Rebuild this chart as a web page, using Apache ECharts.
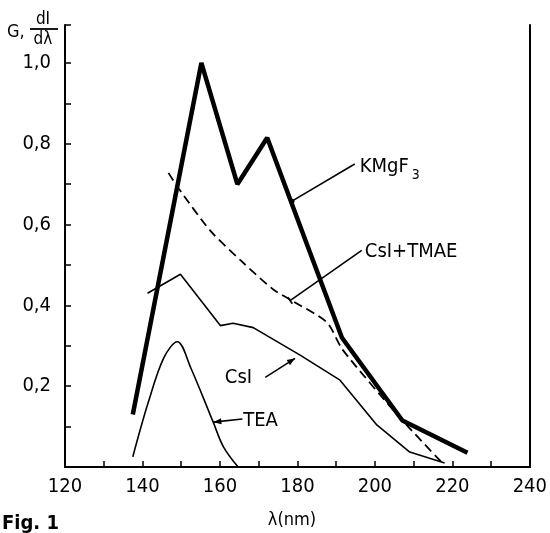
<!DOCTYPE html>
<html>
<head>
<meta charset="utf-8">
<script src="https://cdn.jsdelivr.net/npm/echarts@6/dist/echarts.min.js"></script>
<style>
  html, body { margin: 0; padding: 0; background: #fff; }
  #chart { width: 550px; height: 533px; }
</style>
</head>
<body>
<div id="chart"></div>
<script>
// curves: [lambda (nm), G or dI/dlambda]
const kmgf3 = [[137.5, 0.13], [155.2, 1.0], [164.5, 0.70], [172.2, 0.815], [182.5, 0.55], [191.5, 0.32], [207.1, 0.115], [223.9, 0.035]]
const csi = [[141.3, 0.43], [149.8, 0.477], [160.1, 0.35], [163.4, 0.356], [168.6, 0.345], [180.7, 0.277], [191.0, 0.215], [200.5, 0.104], [209.0, 0.037], [218.0, 0.01]]
const csiTmae = [[146.7, 0.728], [149.3, 0.69], [157.5, 0.585], [165.5, 0.51], [173.7, 0.44], [178.9, 0.41], [187.6, 0.358], [191.7, 0.29], [206.4, 0.123], [217.4, 0.01]]
const tea = [[137.5, 0.025], [141.5, 0.16], [145.5, 0.27], [149.0, 0.31], [152.4, 0.247], [158.3, 0.11], [160.9, 0.05], [164.7, 0.0]]

const xTickLabels = [120, 140, 160, 180, 200, 220, 240]
const yTickLabels = ['0,2', '0,4', '0,6', '0,8', '1,0']

// annotation leaders: from point on curve -> to text
const notes = [
  { text: 'KMgF', sub: '3', from: [178.6, 0.658], to: [194.8, 0.75], at: [196.1, 0.743], align: 'left', head: 'circle' },
  { text: 'CsI+TMAE', from: [178.1, 0.412], to: [196.6, 0.536], at: [197.4, 0.533], align: 'left', head: 'tick' },
  { text: 'CsI', from: [179.4, 0.269], to: [171.7, 0.222], at: [168.3, 0.22], align: 'right', head: 'arrow' },
  { text: 'TEA', from: [158.3, 0.111], to: [165.8, 0.119], at: [166.0, 0.114], align: 'left', head: 'arrow' },
]

const font = '"DejaVu Sans Condensed", "DejaVu Sans", sans-serif'
const myChart = echarts.init(document.getElementById('chart'))

const lineSeries = (name, data, style) => ({
  name,
  type: 'line',
  data,
  symbol: 'none',
  silent: true,
  smooth: style.smooth || false,
  lineStyle: { color: '#000', width: style.width, type: style.type || 'solid' },
})

myChart.setOption({
  animation: false,
  grid: { left: 65, right: 19, top: 25, bottom: 66 },
  xAxis: [
    {
      type: 'value',
      min: 120,
      max: 240,
      interval: 10,
      axisLine: { lineStyle: { color: '#000', width: 2 } },
      axisTick: { inside: true, length: 6, lineStyle: { color: '#000', width: 1.5 } },
      splitLine: { show: false },
      axisLabel: {
        margin: 10,
        color: '#000',
        fontSize: 20,
        fontFamily: font,
        formatter: (v) => (xTickLabels.includes(v) ? String(v) : ''),
      },
    },
    {
      type: 'value',
      position: 'top',
      min: 120,
      max: 240,
      axisLine: { show: true, lineStyle: { color: '#000', width: 2, type: [22, 5] } },
      axisTick: { show: false },
      axisLabel: { show: false },
      splitLine: { show: false },
    },
  ],
  yAxis: [
    {
      type: 'value',
      min: 0,
      max: 1.094,
      interval: 0.1,
      axisLine: { show: true, lineStyle: { color: '#000', width: 2 } },
      axisTick: { inside: true, length: 6, lineStyle: { color: '#000', width: 1.5 } },
      splitLine: { show: false },
      axisLabel: {
        margin: 14,
        color: '#000',
        fontSize: 20,
        fontFamily: font,
        formatter: (v) => {
          const s = v.toFixed(1).replace('.', ',')
          return yTickLabels.includes(s) ? s : ''
        },
      },
    },
    {
      type: 'value',
      position: 'right',
      min: 0,
      max: 1.094,
      axisLine: { show: true, lineStyle: { color: '#000', width: 2 } },
      axisTick: { show: false },
      axisLabel: { show: false },
      splitLine: { show: false },
    },
  ],
  series: [
    lineSeries('KMgF3', kmgf3, { width: 4.5 }),
    lineSeries('CsI', csi, { width: 1.6 }),
    lineSeries('CsI+TMAE', csiTmae, { width: 1.8, type: [9, 5], smooth: 0.25 }),
    lineSeries('TEA', tea, { width: 1.6, smooth: 0.35 }),
  ],
})

// text, leaders and titles placed through the chart's own scales
const px = (p) => myChart.convertToPixel({ gridIndex: 0 }, p)
const graphics = []
notes.forEach((n) => {
  const a = px(n.from)
  const b = px(n.to)
  const t = px(n.at)
  graphics.push({ type: 'line', shape: { x1: a[0], y1: a[1], x2: b[0], y2: b[1] }, style: { stroke: '#000', lineWidth: 1.6 } })
  const ang = Math.atan2(b[1] - a[1], b[0] - a[0])
  if (n.head === 'arrow') {
    const l = 8, w = 3
    const p1 = [a[0] + Math.cos(ang) * l - Math.sin(ang) * w, a[1] + Math.sin(ang) * l + Math.cos(ang) * w]
    const p2 = [a[0] + Math.cos(ang) * l + Math.sin(ang) * w, a[1] + Math.sin(ang) * l - Math.cos(ang) * w]
    graphics.push({ type: 'polygon', shape: { points: [a, p1, p2] }, style: { fill: '#000' } })
  } else if (n.head === 'circle') {
    graphics.push({ type: 'circle', shape: { cx: a[0], cy: a[1], r: 2.5 }, style: { fill: '#000' } })
  } else {
    const w = 4
    graphics.push({ type: 'line', shape: { x1: a[0] - Math.sin(ang) * w, y1: a[1] + Math.cos(ang) * w, x2: a[0] + Math.sin(ang) * w, y2: a[1] - Math.cos(ang) * w }, style: { stroke: '#000', lineWidth: 1.6 } })
  }
  graphics.push({
    type: 'text',
    x: t[0],
    y: t[1],
    style: { text: n.text, font: '20px ' + font, fill: '#000', align: n.align, verticalAlign: 'middle' },
  })
  if (n.sub) {
    graphics.push({
      type: 'text',
      x: t[0] + 52,
      y: t[1] + 9,
      style: { text: n.sub, font: '14px ' + font, fill: '#000', align: 'left', verticalAlign: 'middle' },
    })
  }
})

// y axis title: G, dI/dλ
graphics.push(
  { type: 'text', x: 7, y: 32, style: { text: 'G,', font: '18px ' + font, fill: '#000', verticalAlign: 'middle' } },
  { type: 'text', x: 43, y: 20, style: { text: 'dI', font: '17px ' + font, fill: '#000', align: 'center', verticalAlign: 'middle' } },
  { type: 'line', shape: { x1: 30, y1: 29, x2: 58, y2: 29 }, style: { stroke: '#000', lineWidth: 1.8 } },
  { type: 'text', x: 43, y: 40, style: { text: 'dλ', font: '17px ' + font, fill: '#000', align: 'center', verticalAlign: 'middle' } },
  { type: 'text', x: 292, y: 520, style: { text: 'λ(nm)', font: '18px ' + font, fill: '#000', align: 'center', verticalAlign: 'middle' } },
  { type: 'text', x: 2, y: 524, style: { text: 'Fig. 1', font: 'bold 20px ' + font, fill: '#000', verticalAlign: 'middle' } }
)

myChart.setOption({ graphic: graphics })
</script>
</body>
</html>
